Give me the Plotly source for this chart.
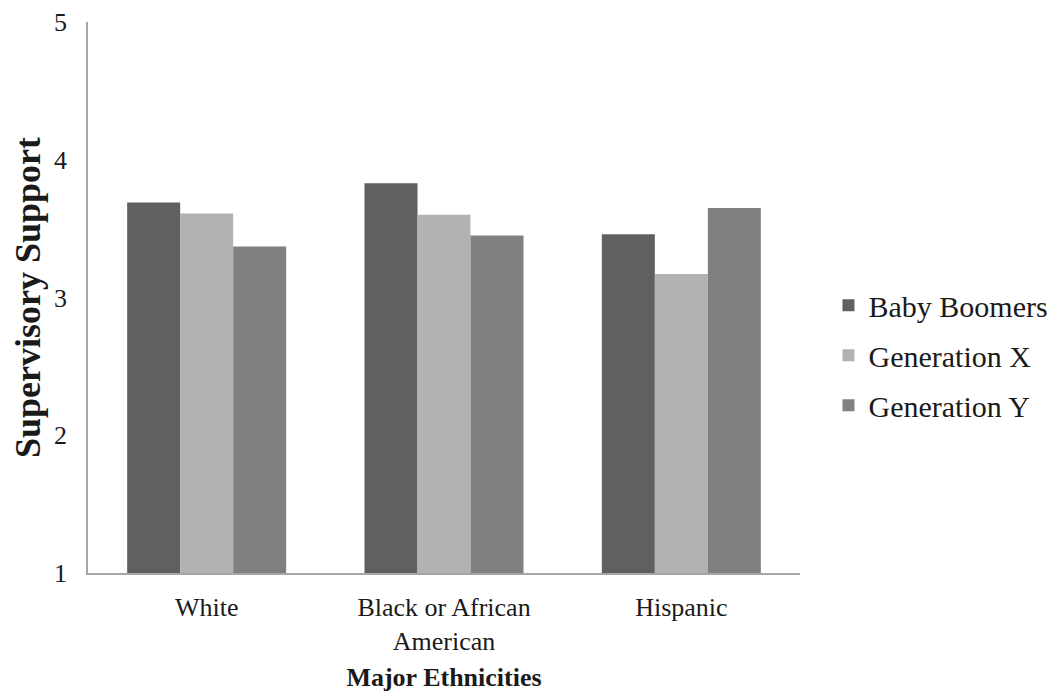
import plotly.graph_objects as go

categories = ["White", "Black or African<br>American", "Hispanic"]
series_names = ["Baby Boomers", "Generation X", "Generation Y"]
baby_boomers = [3.69, 3.83, 3.46]
generation_x = [3.61, 3.60, 3.17]
generation_y = [3.37, 3.45, 3.65]
colors = ["#606060", "#b2b2b2", "#808080"]
y_ticks = [1, 2, 3, 4, 5]

fig = go.Figure()
for name, vals, col in zip(series_names, [baby_boomers, generation_x, generation_y], colors):
    fig.add_trace(go.Bar(x=categories, y=vals, name=name, marker_color=col,
                         marker_line_width=0, legendgroup=name))

fig.update_layout(
    width=1063, height=692,
    paper_bgcolor="white", plot_bgcolor="white",
    margin=dict(l=80, r=271, t=14, b=127, autoexpand=False),
    barmode="group", bargap=0.33, bargroupgap=0,
    font=dict(family="Liberation Serif", color="#1a1a1a", size=26),
    legend=dict(x=1.04, y=0.395, yanchor="middle", xanchor="left",
                font=dict(size=30, family="Liberation Serif", color="#1a1a1a"),
                itemwidth=30, tracegroupgap=8),
    showlegend=True,
)
fig.update_yaxes(range=[1, 5], tickvals=y_ticks, showgrid=False, showline=True,
                 linecolor="#a6a6a6", linewidth=1.5, ticks="", ticklen=0,
                 tickfont=dict(size=26), zeroline=False, ticklabelstandoff=14,
                 title=dict(text="<b>Supervisory Support</b>", font=dict(size=36), standoff=11))
fig.update_xaxes(showline=True, linecolor="#a6a6a6", linewidth=1.5, ticks="",
                 tickfont=dict(size=26), ticklabelstandoff=10,
                 title=dict(text="<b>Major Ethnicities</b>", font=dict(size=26), standoff=13))

fig.write_html("out.html")
